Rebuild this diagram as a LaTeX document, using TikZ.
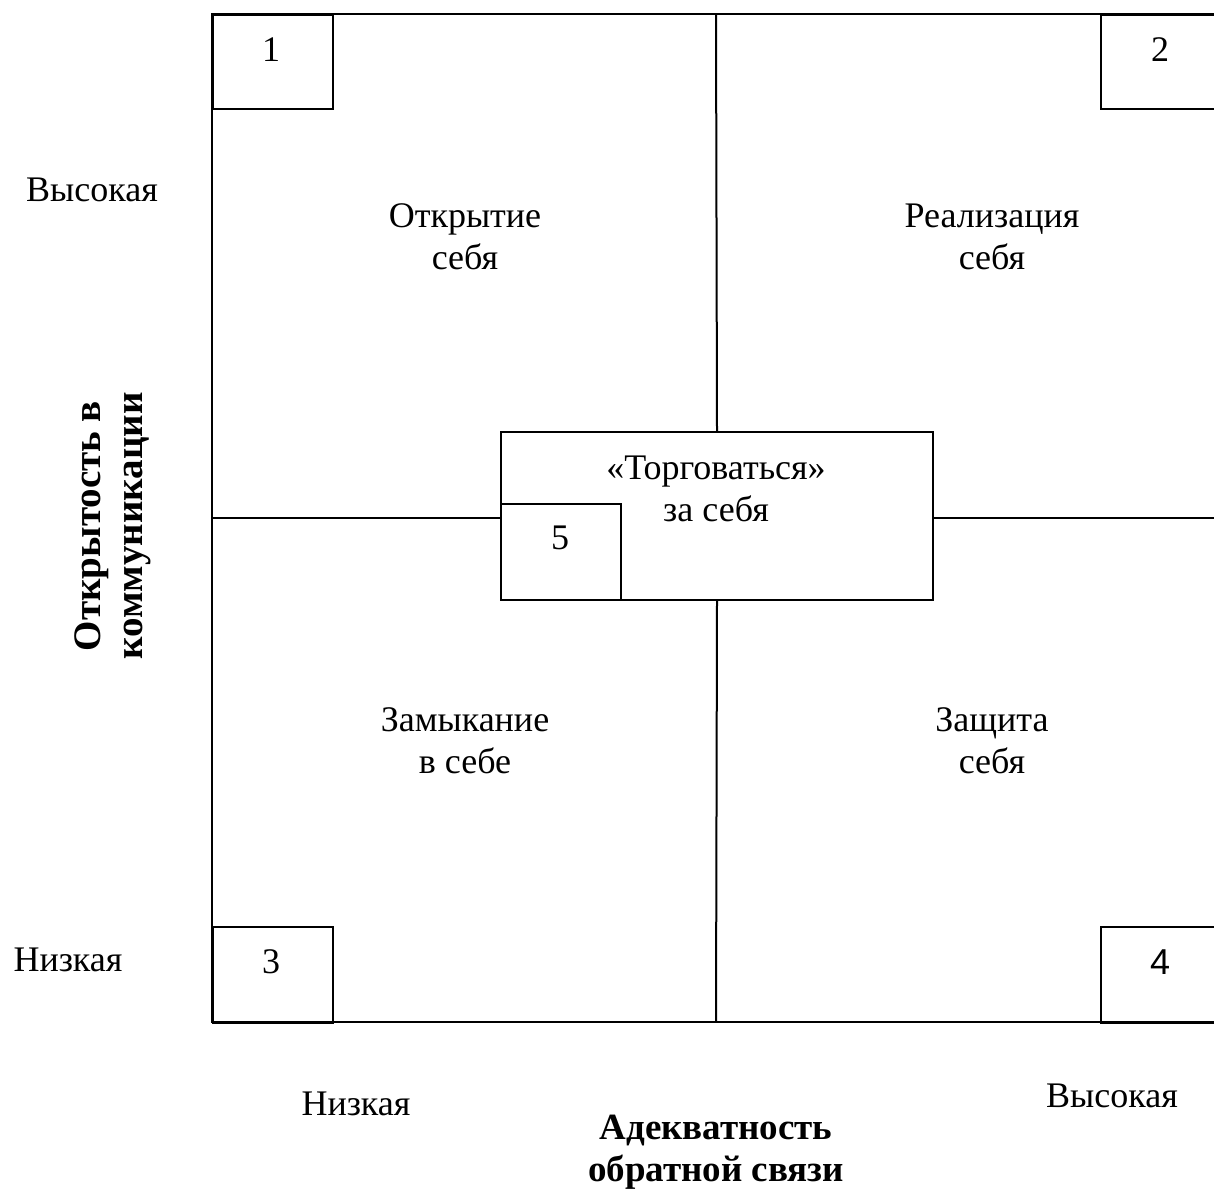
\documentclass[tikz,border=0pt]{standalone}
\usepackage{fontspec}
\setmainfont{Liberation Serif}
\newfontfamily\sansf{Liberation Sans}
\begin{document}
\begin{tikzpicture}[x=0.5pt,y=-0.5pt,line width=1pt,
  lbl/.style={font=\fontsize{18}{21}\selectfont,align=center,inner sep=0pt},
  bld/.style={font=\fontsize{19.5}{21}\selectfont\bfseries,align=center,inner sep=0pt},
  sqbox/.style={draw,line width=1pt,minimum width=60pt,minimum height=47pt,inner sep=0pt,anchor=north west},
  ctrbox/.style={draw,line width=1pt,minimum width=216pt,minimum height=84pt,inner sep=0pt,anchor=north west}]
\useasboundingbox (0,0) rectangle (1214,1191);
\clip (0,0) rectangle (1214,1191);
% frame
\coordinate (tl) at (212,14);
\coordinate (bl) at (212,1022);
\coordinate (tr) at (1222,14);
\coordinate (br) at (1222,1022);
\coordinate (tm) at (716,14);
\coordinate (bm) at (716,1022);
\coordinate (ml) at (212,518);
\coordinate (mr) at (1222,518);
\draw (tr) -- (tl) -- (bl) -- (br);
% centre box
\node[ctrbox] (ctr) at (500,431) {};
\node[sqbox,minimum height=48pt] (b5) at (500,503) {};
\draw (tm) -- (ctr.north);
\draw (ctr.south) -- (bm);
\draw (ml) -- (ml -| ctr.west);
\draw (ml -| ctr.east) -- (mr);
% corner boxes
\node[sqbox] (b1) at (212,14) {};
\node[sqbox] (b2) at (1100,14) {};
\node[sqbox,minimum height=48pt] (b3) at (212,926) {};
\node[sqbox,minimum height=48pt] (b4) at (1100,926) {};
% numbers
\node[lbl] (n1) at (271,50) {1};
\node[lbl] (n2) at (1160,50) {2};
\node[lbl] (n3) at (271,962) {3};
\node[lbl,font=\fontsize{18}{21}\selectfont\sansf] (n4) at (1160,962) {4};
\node[lbl] (n5) at (560,538) {5};
% quadrant texts
\node[lbl] (q1) at (465,237) {Открытие\\себя};
\node[lbl] (q2) at (992,237) {Реализация\\себя};
\node[lbl] (q3) at (465,741) {Замыкание\\в себе};
\node[lbl] (q4) at (992,741) {Защита\\себя};
\node[lbl] (q5) at (716,489) {«Торговаться»\\за себя};
% axis labels
\node[lbl] (yhi) at (92,190) {Высокая};
\node[lbl] (ylo) at (68,960) {Низкая};
\node[lbl] (xlo) at (356,1104) {Низкая};
\node[lbl] (xhi) at (1112,1096) {Высокая};
\node[bld,font=\fontsize{18.5}{21}\selectfont\bfseries] (xax) at (716,1152) {Адекватность\\обратной связи};
\node[bld,rotate=90] (yax) at (113,526) {Открытость в\\коммуникации};
\end{tikzpicture}
\end{document}
